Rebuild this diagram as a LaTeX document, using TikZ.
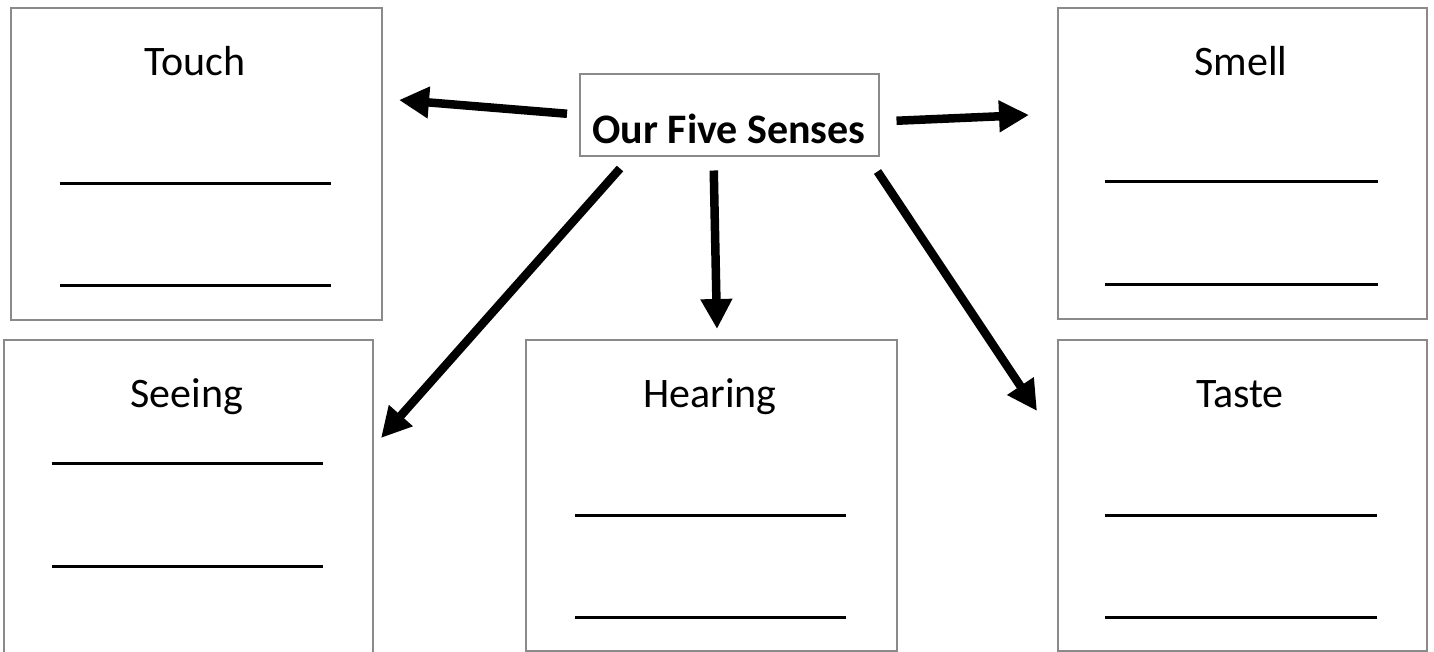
\documentclass[tikz,border=0pt]{standalone}
\usepackage{fontspec}
\setmainfont{Carlito}
\usetikzlibrary{arrows.meta}
\definecolor{boxgray}{HTML}{8A8A8A}
\tikzset{
  sensebox/.style={draw=boxgray, line width=1.5pt, rectangle, inner sep=0pt, anchor=north west},
  title/.style={anchor=base, inner sep=0pt, font=\fontsize{42}{50}\selectfont},
  blank/.style={line width=3pt, black},
  arr/.style={line width=8.5pt, -{Triangle[length=30pt,width=30pt]}},
}
\begin{document}
\begin{tikzpicture}[x=1pt,y=-1pt]
\useasboundingbox (0,0) rectangle (1434,651);
% boxes
\node[sensebox, minimum width=371pt, minimum height=312pt] (touch) at (10,7) {};
\node[sensebox, minimum width=369pt, minimum height=313pt] (seeing) at (3,339) {};
\node[sensebox, minimum width=371pt, minimum height=311pt] (hearing) at (525,339) {};
\node[sensebox, minimum width=369pt, minimum height=311pt] (smell) at (1057,7) {};
\node[sensebox, minimum width=369pt, minimum height=311pt] (taste) at (1057,339) {};
\node[sensebox, minimum width=299pt, minimum height=82pt] (center) at (579,73) {};
% titles
\node[title] (touchT) at (195,75) {Touch};
\node[title] (smellT) at (1241,75) {Smell};
\node[title] (seeingT) at (187,407) {Seeing};
\node[title] (hearingT) at (710,407) {Hearing};
\node[title] (tasteT) at (1240,407) {Taste};
\node[title, font=\fontsize{42}{50}\selectfont\bfseries] (centerT) at (729,143) {Our Five Senses};
% blanks
\draw[blank] (60,183) -- (331,183);
\draw[blank] (60,285) -- (331,285);
\draw[blank] (1105,181) -- (1378,181);
\draw[blank] (1105,284) -- (1378,284);
\draw[blank] (52,463) -- (323,463);
\draw[blank] (52,566) -- (323,566);
\draw[blank] (575,515) -- (846,515);
\draw[blank] (575,617) -- (846,617);
\draw[blank] (1105,515) -- (1377,515);
\draw[blank] (1105,617) -- (1377,617);
% arrow tips (free ends)
\coordinate (eL) at (399,100);
\coordinate (eR) at (1029,115);
\coordinate (eD) at (717,329);
\coordinate (eSW) at (381,438);
\coordinate (eSE) at (1037,411);
\draw[arr] ([xshift=-12pt,yshift=1pt]center.west) -- (eL);
\draw[arr] ([xshift=17pt,yshift=-6pt]center.east) -- (eR);
\draw[arr] ([xshift=-15.5pt,yshift=-14pt]center.south) -- (eD);
\draw[arr] ([xshift=41pt,yshift=-12pt]center.south west) -- (eSW);
\draw[arr] ([xshift=-2pt,yshift=-15pt]center.south east) -- (eSE);
\end{tikzpicture}
\end{document}
